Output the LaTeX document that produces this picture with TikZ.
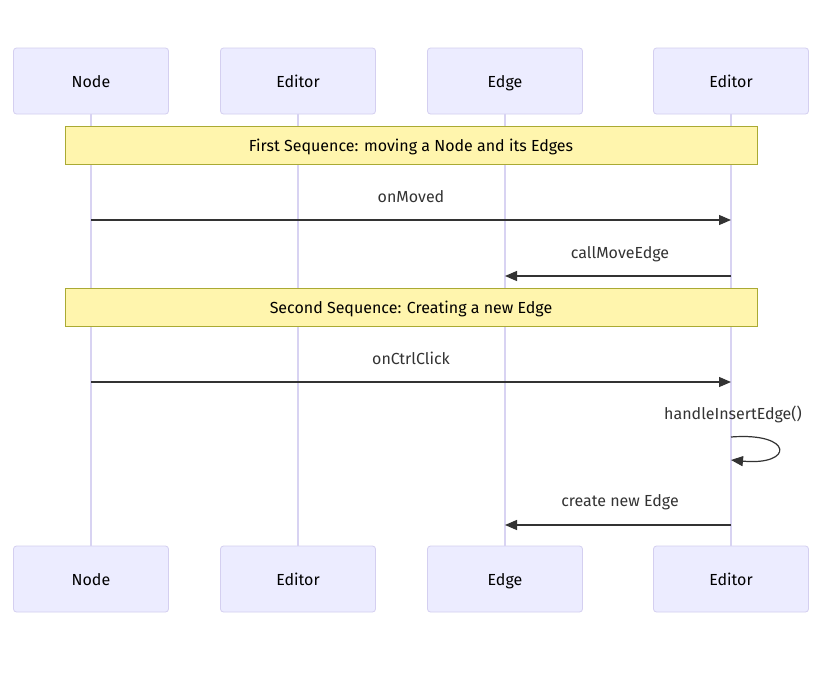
\documentclass[tikz,border=0pt]{standalone}
\usepackage{fontspec}
\setmainfont{Fira Sans}
\usetikzlibrary{arrows.meta,positioning,calc}
\definecolor{actorF}{HTML}{ECECFF}
\definecolor{actorD}{HTML}{D4CFF0}
\definecolor{lifeD}{HTML}{D8D3F2}
\definecolor{noteF}{HTML}{FFF5AD}
\definecolor{noteD}{HTML}{AAAA33}
\definecolor{msgD}{HTML}{333333}
\tikzset{
  actor/.style = {rounded corners=3pt, draw=actorD, fill=actorF, line width=0.8pt,
                  minimum width=155pt, minimum height=66pt, text=black,
                  text height=12pt, text depth=0pt},
  note/.style  = {draw=noteD, fill=noteF, line width=0.8pt,
                  minimum width=692pt, minimum height=38pt, text=black,
                  text height=13pt, text depth=0pt},
  life/.style  = {lifeD, line width=1.2pt},
  msg/.style   = {msgD, line width=1.2pt, -{Triangle[length=12pt,width=10pt]}},
  lbl/.style   = {text=msgD, anchor=base},
}

\begin{document}
\begin{tikzpicture}[x=1pt, y=-1pt, font=\fontsize{16}{19}\selectfont]
  \useasboundingbox[fill=white] (0,0) rectangle (828,694);
  % actors, top and bottom
  \node[actor] (nodeT)    at (91,81)  {Node};
  \node[actor] (editorT)  at (298,81) {Editor};
  \node[actor] (edgeT)    at (505,81) {Edge};
  \node[actor] (editorTT) at (731,81) {Editor};
  \node[actor] (nodeB)    at (91,579)  {Node};
  \node[actor] (editorB)  at (298,579) {Editor};
  \node[actor] (edgeB)    at (505,579) {Edge};
  \node[actor] (editorBB) at (731,579) {Editor};
  % lifelines
  \draw[life] (nodeT) -- (nodeB);
  \draw[life] (editorT) -- (editorB);
  \draw[life] (edgeT) -- (edgeB);
  \draw[life] (editorTT) -- (editorBB);
  % notes
  \node[note] (noteA) at (411,145) {First Sequence: moving a Node and its Edges};
  \node[note] (noteB) at (411,307) {Second Sequence: Creating a new Edge};
  % message end points on the lifelines
  \coordinate (m1a) at (91,220);  \coordinate (m1b) at (731,220);
  \coordinate (m2a) at (731,276); \coordinate (m2b) at (505,276);
  \coordinate (m3a) at (91,382);  \coordinate (m3b) at (731,382);
  \coordinate (m4a) at (731,437); \coordinate (m4b) at (731,460);
  \coordinate (m5a) at (731,525); \coordinate (m5b) at (505,525);
  % messages
  \draw[msg] (m1a) -- (m1b);
  \node[lbl] at (411,202) {onMoved};
  \draw[msg] (m2a) -- (m2b);
  \node[lbl] at (620,258) {callMoveEdge};
  \draw[msg] (m3a) -- (m3b);
  \node[lbl] at (411,364) {onCtrlClick};
  \draw[msg] (m4a) .. controls (794,432) and (794,466) .. (m4b);
  \node[lbl] at (733,419) {handleInsertEdge()};
  \draw[msg] (m5a) -- (m5b);
  \node[lbl] at (620,506) {create new Edge};
\end{tikzpicture}
\end{document}
